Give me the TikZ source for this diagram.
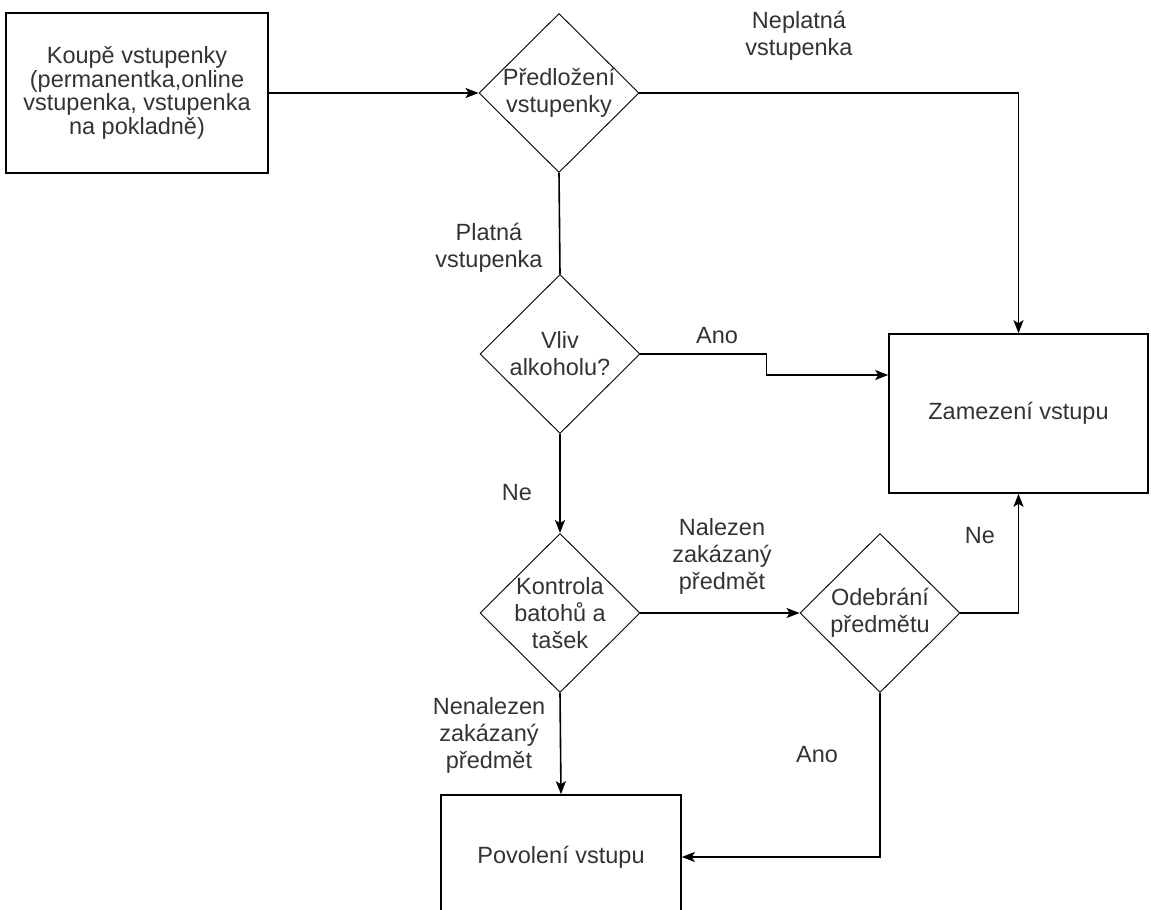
\documentclass[tikz,border=0pt]{standalone}
\usepackage{fontspec}
\setmainfont{Liberation Sans}
\usetikzlibrary{shapes.geometric,arrows.meta}

\begin{document}
\begin{tikzpicture}[x=1pt,y=-1pt,
	every node/.style={text=black!80,align=center,font=\fontsize{23.5}{27}\selectfont},
	stepbox/.style={draw,line width=1.6pt,rectangle,inner sep=0pt},
	decision/.style={draw,line width=0.9pt,diamond,inner sep=-10pt,minimum width=160pt,minimum height=159pt},
	lbl/.style={inner sep=0pt},
	arr/.style={line width=1.6pt,-{Stealth[length=13pt,width=10pt,inset=3pt]}},
	link/.style={line width=1.6pt}]
\useasboundingbox (0,0) rectangle (1151,910);
\clip (0,0) rectangle (1151,910);

% boxes
\node[stepbox,minimum width=262pt,minimum height=160pt,font=\fontsize{23.5}{23.5}\selectfont] (buy) at (137,93)
  {Koupě vstupenky\\(permanentka,online\\vstupenka, vstupenka\\na pokladně)};
\node[stepbox,minimum width=259pt,minimum height=159pt] (deny) at (1018.5,413.5) {Zamezení vstupu};
\node[stepbox,minimum width=240pt,minimum height=124pt] (allow) at (561,857) {Povolení vstupu};

% decisions
\node[decision] (present) at (559,93) {Předložení\\vstupenky};
\node[decision] (alcohol) at (560,354) {Vliv\\alkoholu?};
\node[decision] (check) at (560,613) {Kontrola\\batohů a\\tašek};
\node[decision] (remove) at (880,613) {Odebrání\\předmětu};

% connectors
\draw[arr] (buy.east) -- (present.west);
\draw[arr] (present.east) -| (deny.north);
\draw[link] (present.south) -- (alcohol.north);
\draw[arr] (alcohol.east) -- ++(126,0) |- ([yshift=38.5pt]deny.west);
\draw[arr] (alcohol.south) -- (check.north);
\draw[arr] (check.east) -- (remove.west);
\draw[arr] (remove.east) -| (deny.south);
\draw[arr] (remove.south) |- (allow.east);
\draw[arr] (check.south) -- (allow.north);

% labels
\node[lbl] (invalid) at (799,36) {Neplatná\\vstupenka};
\node[lbl] (valid) at (489,248) {Platná\\vstupenka};
\node[lbl] (yes1) at (717,336) {Ano};
\node[lbl] (no1) at (517,493) {Ne};
\node[lbl] (found) at (722,556) {Nalezen\\zakázaný\\předmět};
\node[lbl] (no2) at (980,536) {Ne};
\node[lbl] (yes2) at (817,755) {Ano};
\node[lbl] (notfound) at (489,735) {Nenalezen\\zakázaný\\předmět};
\end{tikzpicture}
\end{document}
